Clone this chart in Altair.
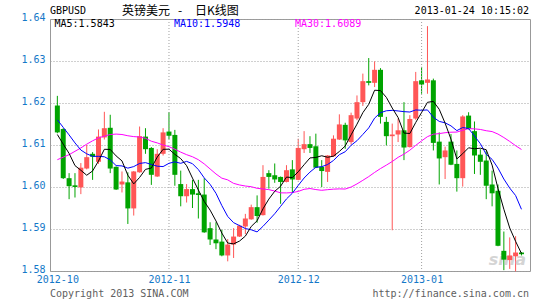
import altair as alt
import pandas as pd

# ---- data (GBPUSD daily, 2012-10-05 .. 2013-01-24) ----
opens = [1.6194, 1.6138, 1.6021, 1.6004, 1.5999, 1.6044, 1.6079, 1.6060, 1.6118, 1.6141,
         1.6048, 1.6006, 1.6011, 1.5949, 1.6035, 1.6120, 1.6093, 1.6025, 1.6079, 1.6132,
         1.6124, 1.6007, 1.5978, 1.5995, 1.5985, 1.5982, 1.5902, 1.5875, 1.5870, 1.5837,
         1.5863, 1.5882, 1.5906, 1.5923, 1.5952, 1.5933, 1.6033, 1.6028, 1.6024, 1.6012,
         1.6042, 1.6017, 1.6090, 1.6102, 1.6097, 1.6048, 1.6036, 1.6073, 1.6113, 1.6148,
         1.6107, 1.6163, 1.6202, 1.6252, 1.6248, 1.6279, 1.6155, 1.6121, 1.6125, 1.6135,
         1.6095, 1.6163, 1.6254, 1.6248, 1.6254, 1.6108, 1.6071, 1.6108, 1.6055, 1.6021,
         1.6170, 1.6133, 1.6077, 1.6063, 1.6006, 1.5991, 1.5848, 1.5826, 1.5835, 1.5844]
highs = [1.6217, 1.6140, 1.6033, 1.6033, 1.6057, 1.6100, 1.6083, 1.6137, 1.6179, 1.6172,
         1.6049, 1.6037, 1.6035, 1.6038, 1.6144, 1.6140, 1.6095, 1.6090, 1.6140, 1.6178,
         1.6136, 1.6039, 1.6007, 1.6017, 1.6017, 1.6021, 1.5916, 1.5916, 1.5898, 1.5876,
         1.5902, 1.5910, 1.5936, 1.5958, 1.5980, 1.6052, 1.6040, 1.6056, 1.6025, 1.6052,
         1.6064, 1.6115, 1.6133, 1.6121, 1.6127, 1.6064, 1.6076, 1.6123, 1.6173, 1.6153,
         1.6177, 1.6218, 1.6270, 1.6307, 1.6299, 1.6283, 1.6167, 1.6151, 1.6163, 1.6202,
         1.6171, 1.6274, 1.6286, 1.6383, 1.6258, 1.6130, 1.6096, 1.6126, 1.6087, 1.6171,
         1.6178, 1.6156, 1.6090, 1.6087, 1.6039, 1.6006, 1.5894, 1.5880, 1.5883, 1.5845]
lows = [1.6128, 1.6019, 1.5971, 1.5975, 1.5983, 1.6042, 1.6017, 1.6055, 1.6113, 1.6033,
        1.5993, 1.5987, 1.5912, 1.5932, 1.6034, 1.6079, 1.6005, 1.6024, 1.6075, 1.6114,
        1.6003, 1.5954, 1.5963, 1.5950, 1.5925, 1.5891, 1.5862, 1.5852, 1.5835, 1.5823,
        1.5831, 1.5881, 1.5888, 1.5922, 1.5915, 1.5932, 1.5996, 1.6010, 1.5960, 1.6011,
        1.5988, 1.6016, 1.6081, 1.6081, 1.6045, 1.6000, 1.6012, 1.6072, 1.6112, 1.6091,
        1.6101, 1.6159, 1.6193, 1.6242, 1.6238, 1.6151, 1.6099, 1.5897, 1.6107, 1.6064,
        1.6094, 1.6160, 1.6222, 1.6222, 1.6087, 1.6006, 1.6019, 1.6052, 1.5989, 1.6001,
        1.6137, 1.6031, 1.6029, 1.5971, 1.5954, 1.5859, 1.5802, 1.5805, 1.5799, 1.5837]
closes = [1.6130, 1.6021, 1.6002, 1.6000, 1.6046, 1.6071, 1.6072, 1.6120, 1.6140, 1.6044,
          1.5994, 1.6013, 1.5949, 1.6037, 1.6121, 1.6090, 1.6029, 1.6079, 1.6130, 1.6122,
          1.6029, 1.5978, 1.5995, 1.5982, 1.5981, 1.5892, 1.5875, 1.5866, 1.5837, 1.5863,
          1.5882, 1.5908, 1.5925, 1.5952, 1.5931, 1.6024, 1.6024, 1.6018, 1.6012, 1.6040,
          1.6018, 1.6093, 1.6102, 1.6093, 1.6046, 1.6038, 1.6075, 1.6115, 1.6149, 1.6111,
          1.6171, 1.6202, 1.6252, 1.6248, 1.6279, 1.6167, 1.6121, 1.6125, 1.6135, 1.6094,
          1.6162, 1.6252, 1.6244, 1.6256, 1.6105, 1.6068, 1.6087, 1.6053, 1.6021, 1.6168,
          1.6138, 1.6075, 1.6060, 1.6003, 1.5985, 1.5860, 1.5827, 1.5837, 1.5844, 1.5840]

# moving-average values at the left edge (their windows start before the chart)
ma5_head = [1.6125, 1.6102, 1.6080, 1.6051]
ma10_head = [1.6160, 1.6142, 1.6124, 1.6105, 1.6088, 1.6079, 1.6073, 1.6073, 1.6072]
ma30_head = [1.6065, 1.6071, 1.6077, 1.6085, 1.6093, 1.6102, 1.6110, 1.6117, 1.6121, 1.6125,
             1.6126, 1.6125, 1.6122, 1.6120, 1.6119, 1.6116, 1.6109, 1.6105, 1.6100, 1.6096,
             1.6090, 1.6083, 1.6077, 1.6072, 1.6065, 1.6055, 1.6043, 1.6031, 1.6021]

month_idx = [0, 19, 41, 62]
month_names = ["2012-10", "2012-11", "2012-12", "2013-01"]
y_ticks = [1.58, 1.59, 1.60, 1.61, 1.62, 1.63, 1.64]

n = len(closes)
df = pd.DataFrame({
    "i": list(range(n)),
    "open": opens, "high": highs, "low": lows, "close": closes,
    "h5": ma5_head + [None] * (n - len(ma5_head)),
    "h10": ma10_head + [None] * (n - len(ma10_head)),
    "h30": ma30_head + [None] * (n - len(ma30_head)),
})
df["dir"] = ["up" if c >= o else "down" for o, c in zip(opens, closes)]

MONO = "DejaVu Sans Mono"
LBL = "#1478c8"
RED = "#ff5656"
GREEN = "#00a400"

label_expr = " : ".join(
    f"datum.value == {v} ? '{t}'" for v, t in zip(month_idx, month_names)) + " : ''"

xscale = alt.Scale(domain=[-0.4, n - 0.4], nice=False, zero=False)
yscale = alt.Scale(domain=[1.58, 1.64], nice=False, zero=False)

x_axis = alt.Axis(
    values=month_idx, labelExpr=label_expr, grid=False, ticks=False, domain=False,
    labelFont=MONO, labelFontSize=10, labelColor=LBL, labelPadding=3, labelFlush=False, title=None)
y_axis = alt.Axis(
    values=y_ticks, format=".2f", grid=True, gridColor="#a0a0a0", gridDash=[1, 2],
    ticks=False, domain=False, labelFont=MONO, labelFontSize=10, labelColor=LBL,
    labelPadding=5, labelOffset=-2, title=None)


def X(field):
    return alt.X(field, type="quantitative", scale=xscale, axis=x_axis)


def Y(field):
    return alt.Y(field, type="quantitative", scale=yscale, axis=y_axis)


color = alt.Color("dir:N", scale=alt.Scale(domain=["up", "down"], range=[RED, GREEN]), legend=None)

base = alt.Chart(df)

wicks = base.mark_rule(strokeWidth=1).encode(x=X("i"), y=Y("low"), y2="high:Q", color=color)

vgrid = alt.Chart(pd.DataFrame({"m": month_idx[1:]})).mark_rule(
    color="#a0a0a0", strokeDash=[1, 2], strokeWidth=1
).encode(x=X("m"))

bodies = base.mark_bar(size=5, minBandSize=1).encode(
    x=X("i"), y=Y("open"), y2="close:Q", color=color)

ma = base.transform_window(
    m5="mean(close)", frame=[-4, 0], sort=[alt.SortField("i")]
).transform_window(
    m10="mean(close)", frame=[-9, 0], sort=[alt.SortField("i")]
).transform_window(
    m30="mean(close)", frame=[-29, 0], sort=[alt.SortField("i")]
).transform_calculate(
    ma5=f"datum.i < {len(ma5_head)} ? datum.h5 : datum.m5",
    ma10=f"datum.i < {len(ma10_head)} ? datum.h10 : datum.m10",
    ma30=f"datum.i < {len(ma30_head)} ? datum.h30 : datum.m30",
)


def ma_line(field, col):
    return ma.mark_line(color=col, strokeWidth=1, interpolate="linear").encode(
        x=X("i"), y=Y(field))


line30 = ma_line("ma30", "#ff00ff")
line10 = ma_line("ma10", "#0000ff")
line5 = ma_line("ma5", "#000000")

one = alt.Data(values=[{}])


def txt(s, x, y, col="#000000", align="left", font=MONO, size=10, **kw):
    return alt.Chart(one).mark_text(text=s, align=align, baseline="middle", font=font,
                                    fontSize=size, color=col, **kw).encode(
        x=alt.value(x), y=alt.value(y))


texts = [
    txt("GBPUSD", 0, -8.5),
    txt("英镑美元", 72, -8.5, font="Noto Sans CJK SC", size=12),
    txt("-", 128, -8.5, font="Noto Sans CJK SC", size=12),
    txt("日K线图", 145, -8.5, font="Noto Sans CJK SC", size=12),
    txt("2013-01-24 10:15:02", 479, -8.5, align="right"),
    txt("MA5:1.5843", 4.5, 4.5),
    txt("MA10:1.5948", 124, 4.5, col="#0000ff"),
    txt("MA30:1.6089", 245, 4.5, col="#ff00ff"),
    txt("Copyright 2013 SINA.COM", 0, 274.5, col="#606060"),
    txt("http://finance.sina.com.cn", 479, 274.5, col="#606060", align="right"),
]
watermark = txt("sina", 476, 241, col="#b8b8b8", align="right", font="DejaVu Sans", size=16,
                fontStyle="italic", fontWeight="bold", opacity=0.6)

chart = alt.layer(
    wicks, vgrid, watermark, bodies, line30, line10, line5, *texts
).properties(
    width=480, height=252,
    padding={"left": 50, "top": 19, "right": 15, "bottom": 29},
    autosize=alt.AutoSizeParams(type="none"),
    background="white",
).configure_view(stroke="#999999", strokeWidth=1)

chart.save("out.html", embed_options={"renderer": "svg", "actions": False})
